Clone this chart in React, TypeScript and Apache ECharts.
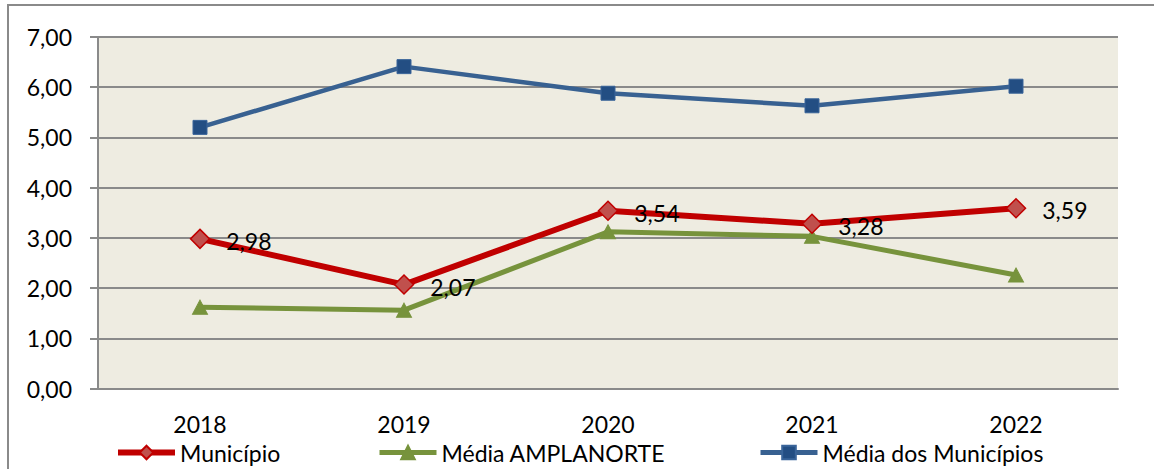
import React, { useEffect, useRef } from "react";
import * as echarts from "echarts";

const categories = ["2018", "2019", "2020", "2021", "2022"];
const municipio = [2.98, 2.07, 3.54, 3.28, 3.59];
const mediaAmplanorte = [1.62, 1.56, 3.12, 3.03, 2.26];
const mediaMunicipios = [5.2, 6.41, 5.88, 5.63, 6.02];
const seriesNames = ["Município", "Média AMPLANORTE", "Média dos Municípios"];

const FONT = "Lato";
const fmt = (v: number) => v.toFixed(2).replace(".", ",");

export default function App() {
  const ref = useRef<HTMLDivElement>(null);
  useEffect(() => {
    if (!ref.current) return;
    const chart = echarts.init(ref.current, undefined, { renderer: "svg" });
    const gray = "#8a8a8a";
    const legendText = { fontFamily: FONT, fontSize: 23, color: "#000" };
    const legendBase = {
      top: 441,
      padding: 0,
      itemWidth: 57,
      itemHeight: 17,
      itemGap: 0,
      textStyle: legendText,
    };
    chart.setOption({
      animation: false,
      backgroundColor: "#ffffff",
      textStyle: { fontFamily: FONT },
      graphic: [
        {
          type: "rect",
          shape: { x: 8, y: 5, width: 1400, height: 700 },
          style: { fill: "none", stroke: gray, lineWidth: 2 },
          silent: true,
        },
      ],
      grid: {
        left: 98,
        right: 36,
        top: 37,
        bottom: 80.5,
        show: true,
        backgroundColor: "#EEECE1",
        borderWidth: 0,
      },
      legend: [
        { ...legendBase, data: [seriesNames[0]], left: 115, lineStyle: { width: 6 } },
        { ...legendBase, data: [seriesNames[1]], left: 377, lineStyle: { width: 5 } },
        { ...legendBase, data: [seriesNames[2]], left: 758, lineStyle: { width: 5 } },
      ],
      xAxis: {
        type: "category",
        data: categories,
        boundaryGap: true,
        axisLine: { show: true, lineStyle: { color: gray, width: 2 } },
        axisTick: { show: false },
        axisLabel: { fontFamily: FONT, fontSize: 23, color: "#000", margin: 24 },
      },
      yAxis: {
        type: "value",
        min: 0,
        max: 7,
        interval: 1,
        axisLine: { show: true, lineStyle: { color: gray, width: 2 } },
        axisTick: { show: true, length: 8, lineStyle: { color: gray, width: 2 } },
        splitLine: { show: true, lineStyle: { color: gray, width: 2 } },
        axisLabel: {
          fontFamily: FONT,
          fontSize: 23,
          color: "#000",
          margin: 26,
          formatter: (v: number) => fmt(v),
        },
      },
      series: [
        {
          name: seriesNames[0],
          type: "line",
          data: municipio,
          z: 4,
          symbol: "diamond",
          symbolSize: 19,
          lineStyle: { color: "#C00000", width: 6 },
          itemStyle: { color: "#C0504D", borderColor: "#C00000", borderWidth: 1.5 },
          label: {
            show: true,
            position: "right",
            distance: 16,
            offset: [0, 2],
            fontFamily: FONT,
            fontSize: 23,
            color: "#000",
            formatter: (p: any) => fmt(p.value),
          },
        },
        {
          name: seriesNames[1],
          type: "line",
          data: mediaAmplanorte,
          z: 3,
          symbol: "triangle",
          symbolSize: [15, 14],
          lineStyle: { color: "#77933C", width: 5 },
          itemStyle: { color: "#77933C", borderColor: "#77933C", borderWidth: 1 },
        },
        {
          name: seriesNames[2],
          type: "line",
          data: mediaMunicipios,
          z: 2,
          symbol: "rect",
          symbolSize: 14,
          lineStyle: { color: "#386191", width: 4.5 },
          itemStyle: { color: "#234E83", borderColor: "#3A659A", borderWidth: 1 },
        },
      ],
    });
    return () => chart.dispose();
  }, []);
  return (
    <div
      ref={ref}
      style={{ position: "absolute", left: 0, top: 0, width: 1154, height: 469 }}
    />
  );
}
